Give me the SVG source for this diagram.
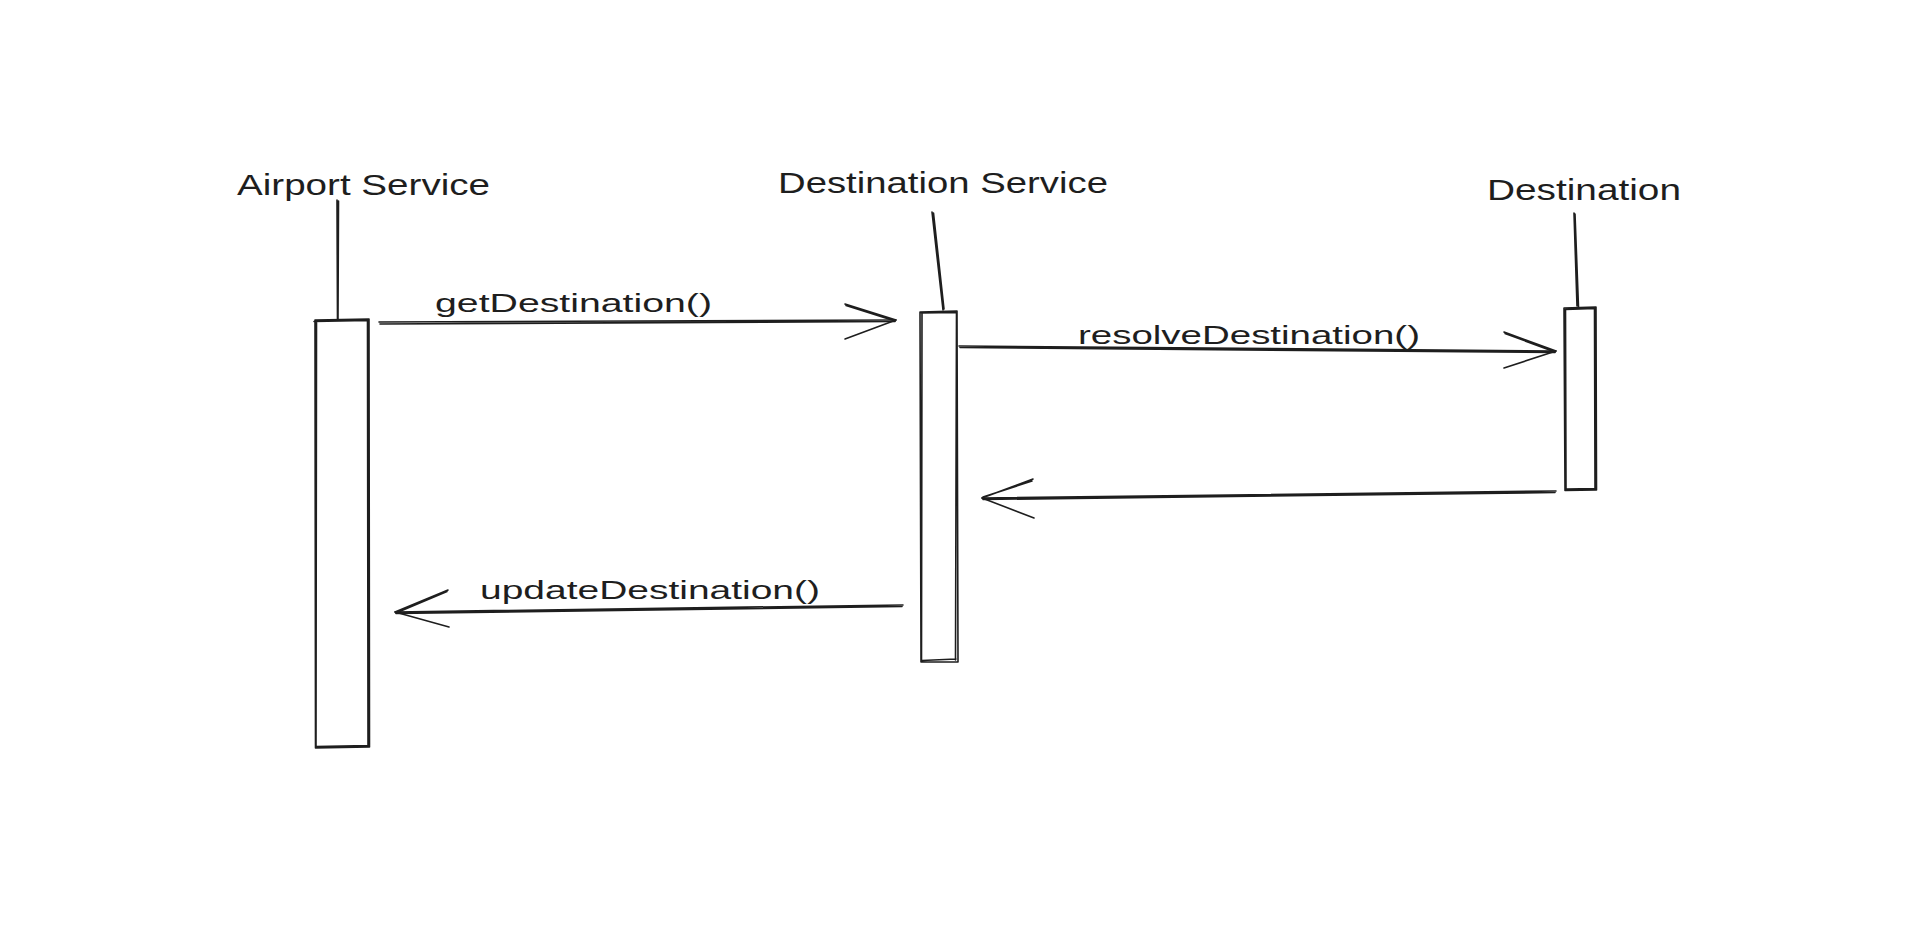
<svg xmlns="http://www.w3.org/2000/svg" width="1910" height="937" viewBox="0 0 1910 937">
<style>
.bg{fill:#ffffff}
.s{fill:none;stroke:#1e1e1e;stroke-width:1.6;stroke-linecap:round;stroke-linejoin:round}
.h{font-family:"Liberation Sans",Arial,sans-serif;font-size:30px;fill:#1e1e1e}
.l{font-family:"Liberation Sans",Arial,sans-serif;font-size:25px;fill:#1e1e1e}
</style>
<rect class="bg" x="0" y="0" width="1910" height="937"/>

<g id="airport-service">
  <text class="h" x="237" y="195" textLength="253" lengthAdjust="spacingAndGlyphs">Airport Service</text>
  <path class="s" d="M337 200 L337.5 320 M338.5 201 L338 319"/>
  <path class="s" d="M315 320 L369 319 L369.5 747 L315.5 748 Z M314 321.5 L368 320.5 M367.5 321 L368 746 M316 746.5 L368 745.5 M316.5 322 L316 747"/>
</g>

<g id="destination-service">
  <text class="h" x="778" y="193" textLength="330" lengthAdjust="spacingAndGlyphs">Destination Service</text>
  <path class="s" d="M932 212 L943 310 M933.5 213 L944 309"/>
  <path class="s" d="M920 312 L957 311 L958 662 L921 662 Z M921.5 313 L956 312.5 M956.5 313 L955.5 660 M922 660.5 L956 659 M922 314 L921.5 660"/>
</g>

<g id="destination">
  <text class="h" x="1487" y="200" textLength="194" lengthAdjust="spacingAndGlyphs">Destination</text>
  <path class="s" d="M1574 213 L1577 306 M1575 214 L1578.5 307"/>
  <path class="s" d="M1564 308 L1596 307 L1596.5 490 L1565 490.5 Z M1565.5 309.5 L1595 308.5 M1594.5 308 L1595 489 M1566 489 L1594.5 488.5 M1565.5 310 L1566 489"/>
</g>

<g id="connectors">
  <g id="msg-getDestination">
    <path class="s" d="M379 322 L896 320 M380 324 L895 321.5"/>
    <path class="s" d="M845 304 L896 320 L845 339 M846 305.5 L895 321"/>
    <text class="l" x="435" y="312" textLength="277" lengthAdjust="spacingAndGlyphs">getDestination()</text>
  </g>
  <g id="msg-resolveDestination">
    <path class="s" d="M959 346 L1556 351 M960 347.5 L1555 352.5"/>
    <path class="s" d="M1504 332 L1556 351 L1504 368 M1505 333.5 L1555 352"/>
    <text class="l" x="1078" y="344" textLength="342" lengthAdjust="spacingAndGlyphs">resolveDestination()</text>
  </g>
  <g id="msg-return">
    <path class="s" d="M1556 491 L982 498 M1555 492.5 L983 499.5"/>
    <path class="s" d="M1033 479 L982 498 L1034 518 M1032 481 L983 497"/>
  </g>
  <g id="msg-updateDestination">
    <path class="s" d="M903 605 L395 612 M902 606.5 L396 613.5"/>
    <path class="s" d="M448 590 L395 612 L449 627 M447 591.5 L396 613"/>
    <text class="l" x="480" y="599" textLength="340" lengthAdjust="spacingAndGlyphs">updateDestination()</text>
  </g>
</g>
</svg>
